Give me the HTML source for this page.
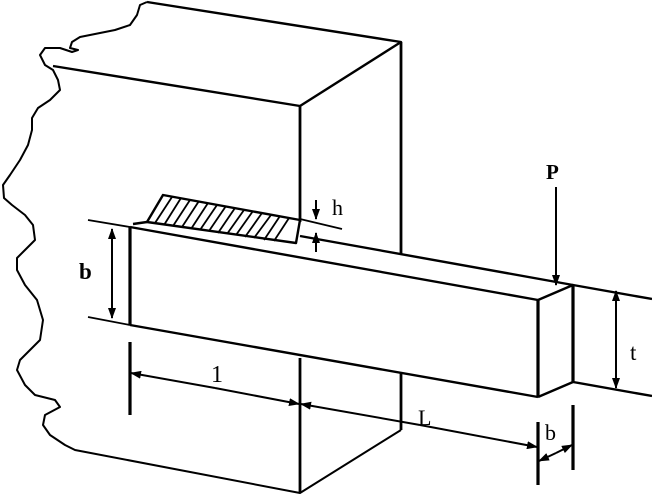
<!DOCTYPE html>
<html><head><meta charset="utf-8"><style>
html,body{margin:0;padding:0;background:#fff;}
svg{display:block}
text{font-family:"Liberation Serif",serif;fill:#000}
</style></head><body>
<svg width="652" height="498" viewBox="0 0 652 498" xmlns="http://www.w3.org/2000/svg">
<defs>
<marker id="ar" markerWidth="11" markerHeight="8" refX="10" refY="4" orient="auto" markerUnits="userSpaceOnUse">
<path d="M0,0 L11,4 L0,8 Z" fill="#000"/></marker>
</defs>
<g fill="none" stroke="#000" stroke-width="2.4" stroke-linejoin="round">
<path d="M147,2 L140,5 L137,15 L130,25 L115,30 L100,33 L80,37 L72,42 L70,48 L78,50 L72,52 L60,48 L45,48 L40,55 L45,65 L53,70 L58,80 L60,90 L50,100 L38,108 L32,118 L32,130 L28,145 L20,160 L10,175 L3,185 L4,198 L12,205 L25,215 L33,225 L35,240 L25,250 L17,258 L17,270 L25,285 L37,300 L43,320 L40,340 L30,350 L20,360 L17,370 L25,385 L35,395 L55,400 L60,407 L45,415 L43,425 L50,435 L65,445 L75,450 L300,493 L401,430" stroke-width="2"/>
<path d="M147,2 L401,42 L300,106 L53,66"/>
<line x1="401" y1="42" x2="401" y2="255" stroke-width="2.8"/>
<line x1="401" y1="373" x2="401" y2="430" stroke-width="2.8"/>
<line x1="300" y1="106" x2="300" y2="222" stroke-width="2.8"/>
<line x1="300" y1="358" x2="300" y2="493" stroke-width="2.8"/>
<line x1="130" y1="227" x2="538" y2="300"/>
<line x1="130" y1="325" x2="538" y2="397"/>
<line x1="130" y1="227" x2="130" y2="325" stroke-width="3.2"/>
<line x1="538" y1="300" x2="538" y2="397" stroke-width="3.2"/>
<line x1="573" y1="285" x2="573" y2="382" stroke-width="3.2"/>
<path d="M538,300 L573,285 L652,299"/>
<path d="M538,397 L573,382 L652,396"/>
<line x1="300" y1="236" x2="573" y2="285"/>
<path d="M163,195 L300,220 L296,243 L147,222 Z"/>
<path d="M147,222 L133,224" />
<g stroke-width="1.8">
<line x1="172" y1="197" x2="155" y2="223"/><line x1="181" y1="198" x2="164" y2="225"/>
<line x1="190" y1="200" x2="173" y2="226"/><line x1="199" y1="201" x2="182" y2="227"/>
<line x1="208" y1="203" x2="191" y2="229"/><line x1="217" y1="205" x2="200" y2="230"/>
<line x1="226" y1="206" x2="209" y2="231"/><line x1="235" y1="208" x2="218" y2="233"/>
<line x1="244" y1="210" x2="227" y2="234"/><line x1="253" y1="211" x2="236" y2="235"/>
<line x1="262" y1="213" x2="245" y2="237"/><line x1="271" y1="215" x2="254" y2="238"/>
<line x1="280" y1="216" x2="264" y2="240"/><line x1="289" y1="218" x2="274" y2="241"/>
</g>
<line x1="88" y1="220" x2="130" y2="227" stroke-width="1.8"/>
<line x1="88" y1="317" x2="130" y2="325" stroke-width="1.8"/>
<line x1="300" y1="219" x2="342" y2="229" stroke-width="1.8"/>
<line x1="130" y1="342" x2="130" y2="415" stroke-width="3.2"/>
<line x1="538" y1="422" x2="538" y2="485" stroke-width="3.2"/>
<line x1="573" y1="405" x2="573" y2="470" stroke-width="3.2"/>
</g>
<g stroke="#000" stroke-width="2" fill="none">
<line x1="112" y1="240" x2="112" y2="229" marker-end="url(#ar)"/>
<line x1="112" y1="240" x2="112" y2="318" marker-end="url(#ar)"/>
<line x1="215" y1="388" x2="131" y2="373" marker-end="url(#ar)"/>
<line x1="215" y1="388" x2="299" y2="404" marker-end="url(#ar)"/>
<line x1="420" y1="425" x2="301" y2="404" marker-end="url(#ar)"/>
<line x1="420" y1="425" x2="537" y2="447" marker-end="url(#ar)"/>
<line x1="556" y1="453" x2="539" y2="461" marker-end="url(#ar)"/>
<line x1="556" y1="453" x2="572" y2="445" marker-end="url(#ar)"/>
<line x1="616" y1="340" x2="616" y2="291" marker-end="url(#ar)"/>
<line x1="616" y1="340" x2="616" y2="388" marker-end="url(#ar)"/>
<line x1="556" y1="187" x2="556" y2="285" marker-end="url(#ar)"/>
<line x1="316" y1="200" x2="316" y2="219" marker-end="url(#ar)"/>
<line x1="316" y1="252" x2="316" y2="233" marker-end="url(#ar)"/>
</g>
<text x="79" y="279" font-size="23" font-weight="bold">b</text>
<text x="211" y="382" font-size="24">1</text>
<text x="418" y="425" font-size="22">L</text>
<text x="545" y="440" font-size="22">b</text>
<text x="630" y="360" font-size="23">t</text>
<text x="546" y="179" font-size="21" font-weight="bold">P</text>
<text x="332" y="215" font-size="22">h</text>
</svg>
</body></html>
